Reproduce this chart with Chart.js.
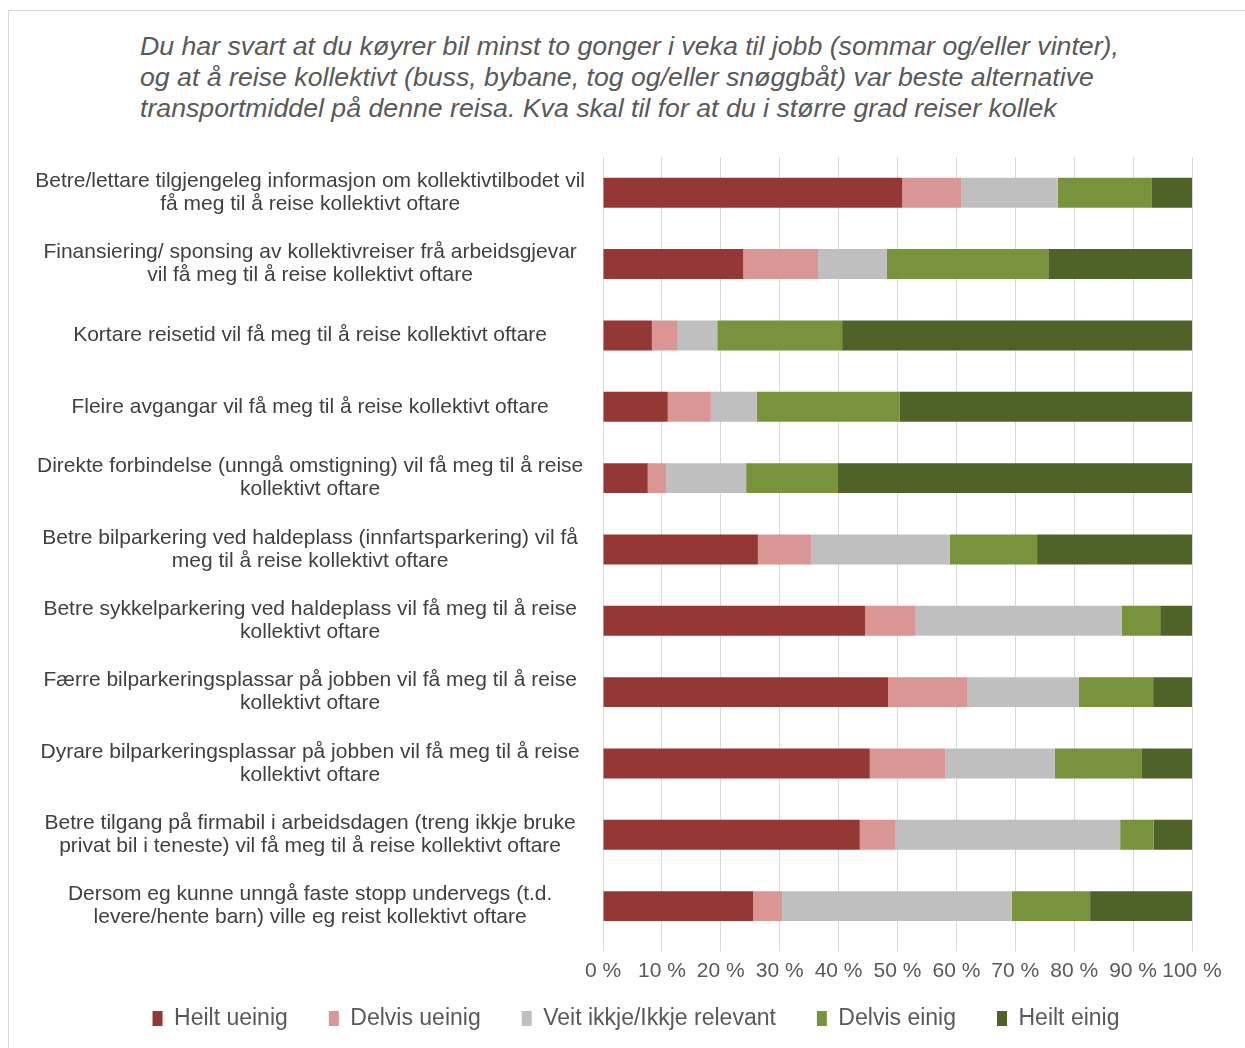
<!DOCTYPE html>
<html>
<head>
<meta charset="utf-8">
<script src="https://cdn.jsdelivr.net/npm/chart.js@4"></script>
<style>
  body { margin: 0; background: #fff; font-family: "Liberation Sans", Arial, sans-serif; }
  #wrap { position: relative; width: 1245px; height: 1048px; overflow: hidden; }
  #frame { position: absolute; left: 8px; top: 10px; width: 1300px; height: 1100px;
           border-left: 1px solid #d9d9d9; border-top: 1px solid #d9d9d9; }
  #title { position: absolute; left: 140px; top: 31px; font-style: italic; font-size: 26.7px;
           line-height: 31px; color: #595959; white-space: nowrap; }
  #box { position: absolute; left: 0; top: 116px; width: 1245px; height: 949px; }
</style>
</head>
<body>
<div id="wrap">
  <div id="frame"></div>
  <div id="title">
    Du har svart at du køyrer bil minst to gonger i veka til jobb (sommar og/eller vinter),<br>
    og at å reise kollektivt (buss, bybane, tog og/eller snøggbåt) var beste alternative<br>
    transportmiddel på denne reisa. Kva skal til for at du i større grad reiser kollek
  </div>
  <div id="box"><canvas id="chart"></canvas></div>
</div>
<script>
// ===== data =====
const categories = [
  ["Betre/lettare tilgjengeleg informasjon om kollektivtilbodet vil", "få meg til å reise kollektivt oftare"],
  ["Finansiering/ sponsing av kollektivreiser frå arbeidsgjevar", "vil få meg til å reise kollektivt oftare"],
  ["Kortare reisetid vil få meg til å reise kollektivt oftare"],
  ["Fleire avgangar vil få meg til å reise kollektivt oftare"],
  ["Direkte forbindelse (unngå omstigning) vil få meg til å reise", "kollektivt oftare"],
  ["Betre bilparkering ved haldeplass (innfartsparkering) vil få", "meg til å reise kollektivt oftare"],
  ["Betre sykkelparkering ved haldeplass vil få meg til å reise", "kollektivt oftare"],
  ["Færre bilparkeringsplassar på jobben vil få meg til å reise", "kollektivt oftare"],
  ["Dyrare bilparkeringsplassar på jobben vil få meg til å reise", "kollektivt oftare"],
  ["Betre tilgang på firmabil i arbeidsdagen (treng ikkje bruke", "privat bil i teneste) vil få meg til å reise kollektivt oftare"],
  ["Dersom eg kunne unngå faste stopp undervegs (t.d.", "levere/hente barn) ville eg reist kollektivt oftare"]
];

const seriesNames = ["Heilt ueinig", "Delvis ueinig", "Veit ikkje/Ikkje relevant", "Delvis einig", "Heilt einig"];

const heiltUeinig  = [50.8, 23.8,  8.3, 11.0,  7.6, 26.3, 44.5, 48.4, 45.3, 43.6, 25.5];
const delvisUeinig = [10.0, 12.7,  4.4,  7.3,  3.1,  9.0,  8.6, 13.4, 12.8,  6.1,  4.9];
const veitIkkje    = [16.4, 11.7,  6.7,  7.8, 13.6, 23.6, 35.0, 19.0, 18.6, 38.1, 39.0];
const delvisEinig  = [16.0, 27.4, 21.2, 24.3, 15.6, 14.8,  6.5, 12.6, 14.8,  5.7, 13.3];
const heiltEinig   = [ 6.8, 24.4, 59.4, 49.6, 60.1, 26.3,  5.4,  6.6,  8.5,  6.5, 17.3];

const xTicks = [0, 10, 20, 30, 40, 50, 60, 70, 80, 90, 100];

const colors = ["#953735", "#d99694", "#bfbfbf", "#77933c", "#4f6228"];
const allSeries = [heiltUeinig, delvisUeinig, veitIkkje, delvisEinig, heiltEinig];

const datasets = allSeries.map((vals, i) => ({
  label: seriesNames[i],
  data: vals,
  backgroundColor: colors[i],
  borderWidth: 0,
  barPercentage: 0.6,
  categoryPercentage: 0.7
}));

// nudge the legend up/right a bit (its row padding is also used as item spacing)
const legendNudge = {
  id: "legendNudge",
  afterLayout(chart) {
    const lg = chart.legend;
    lg.top -= 25; lg.bottom -= 25;
    lg.left += 30; lg.right += 30;
  }
};

new Chart(document.getElementById("chart"), {
  type: "bar",
  data: { labels: categories, datasets: datasets },
  plugins: [legendNudge],
  options: {
    indexAxis: "y",
    responsive: true,
    maintainAspectRatio: false,
    animation: false,
    layout: { padding: { left: 20, right: 53, top: 0, bottom: 0 } },
    scales: {
      x: {
        stacked: true,
        min: 0,
        max: 100,
        afterBuildTicks: axis => { axis.ticks = xTicks.map(v => ({ value: v })); },
        ticks: {
          callback: v => v + " %",
          color: "#595959",
          font: { family: "Liberation Sans", size: 21 },
          padding: 7,
          maxRotation: 0,
          autoSkip: false
        },
        grid: { color: "#d9d9d9", tickLength: 10, lineWidth: 1 },
        border: { display: false }
      },
      y: {
        stacked: true,
        afterFit: axis => { axis.width = 583; },
        ticks: {
          color: "#404040",
          font: { family: "Liberation Sans", size: 21, lineHeight: 1.1 },
          crossAlign: "center",
          padding: 18,
          autoSkip: false
        },
        grid: { display: false, drawTicks: false },
        border: { display: false }
      }
    },
    plugins: {
      legend: {
        position: "bottom",
        labels: {
          boxWidth: 10,
          boxHeight: 15,
          padding: 41,
          color: "#595959",
          font: { family: "Liberation Sans", size: 23 }
        }
      },
      tooltip: { enabled: false }
    }
  }
});
</script>
</body>
</html>
